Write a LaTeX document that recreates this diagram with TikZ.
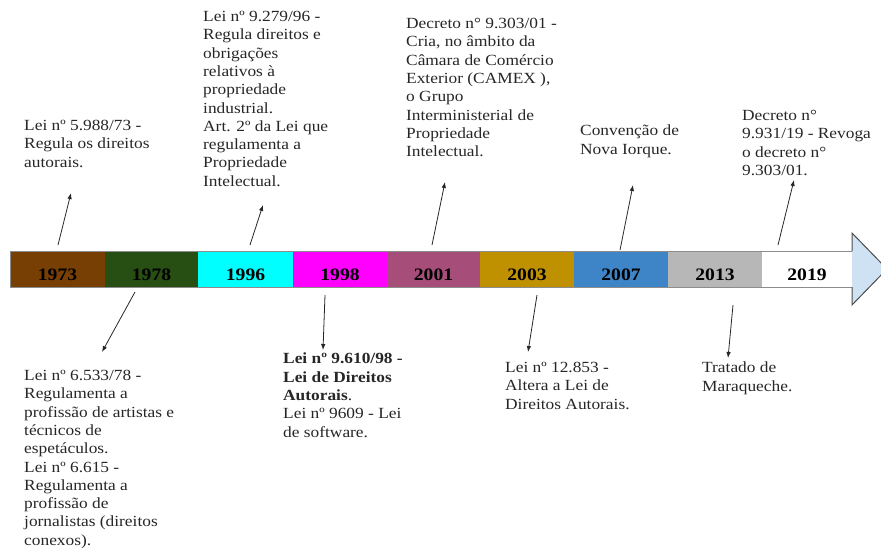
\documentclass[tikz,border=0pt]{standalone}
\usepackage{fontspec}
\setmainfont{Liberation Serif}[FakeStretch=1.12]
\usetikzlibrary{arrows.meta}
\definecolor{c1973}{HTML}{783F04}
\definecolor{c1978}{HTML}{274E13}
\definecolor{c1996}{HTML}{00FFFF}
\definecolor{c1998}{HTML}{FF00FF}
\definecolor{c2001}{HTML}{A64D79}
\definecolor{c2003}{HTML}{BF9000}
\definecolor{c2007}{HTML}{3D85C6}
\definecolor{c2013}{HTML}{B7B7B7}
\definecolor{headblue}{HTML}{CFE2F3}
\begin{document}
\begin{tikzpicture}[x=1pt,y=-1pt,
  seg/.style={fill=#1, draw=none, anchor=north west, minimum height=36pt, inner sep=0pt},
  yr/.style={font=\fontsize{17.5}{20}\selectfont\bfseries, anchor=base, text=black, inner sep=0pt},
  note/.style={font=\fontsize{15.5}{18.3}\selectfont, anchor=north west, align=left, inner sep=0pt, text=black!85},
  ptr/.style={-{Latex[length=6pt,width=4.5pt]}, line width=0.8pt, draw=black!85}]
\useasboundingbox (0,0) rectangle (881,547);
% arrow body and head
\fill[white] (10,251) rectangle (852,287);
\node[seg=c1973, minimum width=95pt] (s1973) at (10,251) {};
\node[seg=c1978, minimum width=93pt] (s1978) at (105,251) {};
\node[seg=c1996, minimum width=95pt] (s1996) at (198,251) {};
\node[seg=c1998, minimum width=94pt] (s1998) at (293,251) {};
\node[seg=c2001, minimum width=93pt] (s2001) at (387,251) {};
\node[seg=c2003, minimum width=94pt] (s2003) at (480,251) {};
\node[seg=c2007, minimum width=94pt] (s2007) at (574,251) {};
\node[seg=c2013, minimum width=94pt] (s2013) at (668,251) {};
\draw[black!45, line width=0.8pt] (852,251) -- (10,251) -- (10,287) -- (852,287);
\fill[headblue] (852,233) -- (887,269) -- (852,305) -- cycle;
\draw[black!70, line width=1pt] (852,251) -- (852,233) -- (887,269) -- (852,305) -- (852,287);
% year labels
\node[yr] (y1973) at (57.5,280) {1973};
\node[yr] (y1978) at (151.5,280) {1978};
\node[yr] (y1996) at (245.5,280) {1996};
\node[yr] (y1998) at (340,280) {1998};
\node[yr] (y2001) at (433.5,280) {2001};
\node[yr] (y2003) at (527,280) {2003};
\node[yr] (y2007) at (621,280) {2007};
\node[yr] (y2013) at (715,280) {2013};
\node[yr] (y2019) at (807,280) {2019};
% notes above
\node[note] (t1973) at (24,120) {Lei nº 5.988/73 -\\Regula os direitos\\autorais.};
\node[note] (t1996) at (203,11) {Lei nº 9.279/96 -\\Regula direitos e\\obrigações\\relativos à\\propriedade\\industrial.\\Art. 2º da Lei que\\regulamenta a\\Propriedade\\Intelectual.};
\node[note] (t2001) at (406,18) {Decreto n° 9.303/01 -\\Cria, no âmbito da\\Câmara de Comércio\\Exterior (CAMEX ),\\o Grupo\\Interministerial de\\Propriedade\\Intelectual.};
\node[note] (t2007) at (580,125) {Convenção de\\Nova Iorque.};
\node[note] (t2019) at (742,110) {Decreto n°\\9.931/19 - Revoga\\o decreto n°\\9.303/01.};
% notes below
\node[note] (b1978) at (24,370) {Lei nº 6.533/78 -\\Regulamenta a\\profissão de artistas e\\técnicos de\\espetáculos.\\Lei nº 6.615 -\\Regulamenta a\\profissão de\\jornalistas (direitos\\conexos).};
\node[note] (b1998) at (283,353) {\textbf{Lei nº 9.610/98 -}\\\textbf{Lei de Direitos}\\\textbf{Autorais}.\\Lei nº 9609 - Lei\\de software.};
\node[note] (b2003) at (505,362) {Lei nº 12.853 -\\Altera a Lei de\\Direitos Autorais.};
\node[note] (b2013) at (702,362) {Tratado de\\Maraqueche.};
% pointer coordinates
\coordinate (p1973a) at (58,245);  \coordinate (p1973b) at (71,193);
\coordinate (p1996a) at (250,245); \coordinate (p1996b) at (263,205);
\coordinate (p2001a) at (432,245); \coordinate (p2001b) at (445,182);
\coordinate (p2007a) at (620,250); \coordinate (p2007b) at (633,185);
\coordinate (p2019a) at (778,245); \coordinate (p2019b) at (794,180);
\coordinate (p1978a) at (135,292); \coordinate (p1978b) at (102,352);
\coordinate (p1998a) at (325,295); \coordinate (p1998b) at (323,350);
\coordinate (p2003a) at (537,295); \coordinate (p2003b) at (528,352);
\coordinate (p2013a) at (733,305); \coordinate (p2013b) at (728,358);
\draw[ptr] (p1973a) -- (p1973b);
\draw[ptr] (p1996a) -- (p1996b);
\draw[ptr] (p2001a) -- (p2001b);
\draw[ptr] (p2007a) -- (p2007b);
\draw[ptr] (p2019a) -- (p2019b);
\draw[ptr] (p1978a) -- (p1978b);
\draw[ptr] (p1998a) -- (p1998b);
\draw[ptr] (p2003a) -- (p2003b);
\draw[ptr] (p2013a) -- (p2013b);
\end{tikzpicture}
\end{document}
